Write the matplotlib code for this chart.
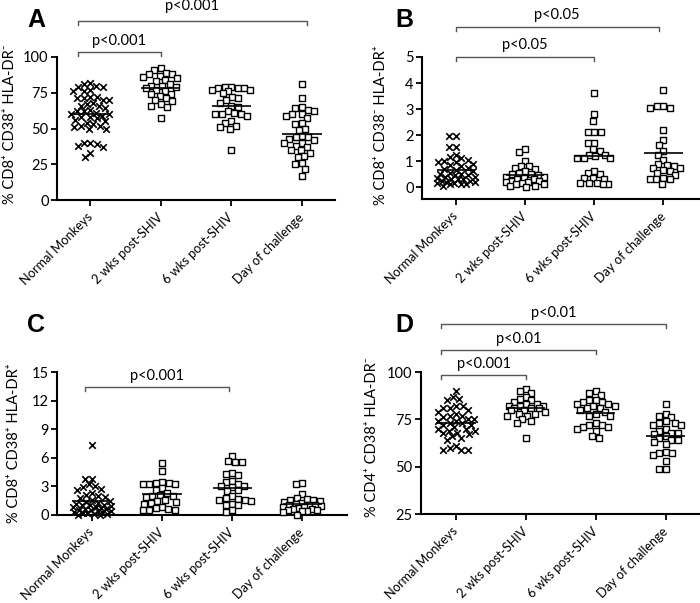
import numpy as np
import matplotlib
matplotlib.use("Agg")
import matplotlib.pyplot as plt
from matplotlib import font_manager

plt.rcParams['font.family'] = ['Lato', 'DejaVu Sans']

# narrow font for rotated category labels if present
try:
    font_manager.findfont(font_manager.FontProperties(family="Liberation Sans Narrow"),
                          fallback_to_default=False)
    XT_FAMILY, XT_SIZE = ["Liberation Sans Narrow", "Lato"], 10
except Exception:
    XT_FAMILY, XT_SIZE = ["Lato", "DejaVu Sans"], 9.2

# ---------------- data ----------------
categories = ["Normal Monkeys", "2 wks post-SHIV", "6 wks post-SHIV", "Day of challenge"]

a_normal = [82, 81, 80, 79, 79, 77, 76, 76, 72, 72, 71, 71, 70, 70, 68, 67, 66, 66, 64, 63,
            62, 62, 61, 60, 60, 59, 58, 58, 57, 56, 55, 54, 53, 52, 52, 51, 50, 50, 40, 40,
            39, 38, 37, 33, 30]
a_2wk = [92, 91, 89, 88, 88, 87, 86, 85, 84, 83, 81, 80, 80, 79, 78, 77, 76, 74, 74, 73,
         71, 70, 69, 67, 66, 65, 57]
a_6wk = [79, 79, 78, 78, 78, 77, 77, 76, 75, 72, 71, 70, 68, 66, 65, 62, 61, 60, 60, 60,
         59, 55, 54, 52, 51, 50, 35]
a_day = [81, 71, 65, 64, 63, 62, 60, 60, 59, 57, 54, 53, 50, 49, 45, 44, 44, 43, 42, 40,
         40, 38, 37, 35, 35, 33, 31, 30, 26, 25, 22, 17]

b_normal = [1.97, 1.95, 1.55, 1.55, 1.25, 1.15, 1.1, 1.05, 1.0, 0.95, 0.95, 0.9, 0.85, 0.8,
            0.75, 0.7, 0.65, 0.6, 0.55, 0.5, 0.5, 0.45, 0.45, 0.4, 0.4, 0.35, 0.3, 0.3, 0.3,
            0.25, 0.25, 0.2, 0.2, 0.15, 0.15, 0.1, 0.1, 0.1, 0.05]
b_2wk = [1.45, 1.35, 1.0, 0.8, 0.8, 0.75, 0.7, 0.6, 0.55, 0.5, 0.5, 0.45, 0.4, 0.4, 0.35,
         0.3, 0.3, 0.25, 0.25, 0.2, 0.2, 0.15, 0.1, 0.1, 0.05, 0.05, 0.0]
b_6wk = [3.6, 2.8, 2.55, 2.1, 2.1, 2.1, 1.7, 1.7, 1.45, 1.4, 1.25, 1.25, 1.2, 1.1, 1.1, 1.1,
         0.6, 0.55, 0.5, 0.35, 0.35, 0.3, 0.15, 0.15, 0.15, 0.1, 0.1]
b_day = [3.75, 3.1, 3.05, 3.05, 3.1, 2.2, 1.8, 1.6, 1.4, 1.25, 1.05, 0.9, 0.85, 0.8, 0.75,
         0.75, 0.65, 0.6, 0.55, 0.45, 0.35, 0.3, 0.3, 0.3, 0.1]

c_normal = [7.3, 3.8, 3.8, 3.2, 3.0, 2.9, 2.7, 2.6, 2.3, 2.1, 2.0, 1.9, 1.8, 1.6, 1.5, 1.4,
            1.3, 1.2, 1.1, 1.0, 1.0, 0.9, 0.8, 0.8, 0.7, 0.6, 0.6, 0.5, 0.5, 0.4, 0.4, 0.3,
            0.3, 0.2, 0.2, 0.1, 0.1, 0.0, 0.0]
c_2wk = [5.5, 4.6, 3.5, 3.4, 3.4, 3.3, 3.3, 3.2, 2.8, 2.6, 2.3, 2.1, 2.0, 2.0, 1.9, 1.6,
         1.5, 1.4, 1.3, 1.2, 0.8, 0.7, 0.6, 0.5, 0.5, 0.5]
c_6wk = [6.2, 5.7, 5.6, 5.6, 4.4, 4.3, 4.2, 3.6, 3.5, 3.3, 3.0, 3.0, 2.9, 2.6, 2.5, 2.0,
         1.8, 1.7, 1.6, 1.6, 1.5, 1.2, 1.1, 1.0, 0.5, 0.3]
c_day = [3.4, 3.3, 2.2, 1.8, 1.7, 1.6, 1.6, 1.5, 1.4, 1.3, 1.2, 1.1, 1.0, 1.0, 0.9, 0.8,
         0.8, 0.7, 0.6, 0.6, 0.5, 0.5, 0.4, 0.4, 0.3, 0.0]

d_normal = [90, 87, 86, 85, 82, 82, 81, 81, 80, 79, 78, 77, 77, 76, 75, 75, 74, 74, 73, 73,
            72, 72, 71, 70, 70, 69, 69, 68, 68, 67, 66, 65, 64, 61, 60, 59, 59, 59]
d_2wk = [91, 90, 89, 87, 86, 85, 84, 83, 83, 82, 82, 82, 81, 81, 81, 80, 80, 79, 78, 78,
         77, 77, 75, 74, 73, 65]
d_6wk = [90, 89, 88, 85, 85, 84, 84, 83, 83, 82, 82, 81, 81, 80, 79, 78, 77, 77, 73, 72,
         72, 71, 71, 70, 69, 66, 65]
d_day = [83, 78, 77, 76, 74, 73, 73, 72, 72, 70, 69, 68, 68, 67, 66, 65, 64, 64, 63, 62,
         58, 57, 57, 56, 53, 49, 49]

ylabels = ["% CD8\u207a CD38\u207a HLA-DR\u207b",
           "% CD8\u207a CD38\u207b HLA-DR\u207a",
           "% CD8\u207a CD38\u207a HLA-DR\u207a",
           "% CD4\u207a CD38\u207a HLA-DR\u207b"]
panel_letters = ["A", "B", "C", "D"]
yticks = [[0, 25, 50, 75, 100], [0, 1, 2, 3, 4, 5], [0, 3, 6, 9, 12, 15], [25, 50, 75, 100]]
bracket_labels = [["p<0.001", "p<0.001"], ["p<0.05", "p<0.05"], ["p<0.001"],
                  ["p<0.01", "p<0.01", "p<0.001"]]
panels = [
    [a_normal, a_2wk, a_6wk, a_day],
    [b_normal, b_2wk, b_6wk, b_day],
    [c_normal, c_2wk, c_6wk, c_day],
    [d_normal, d_2wk, d_6wk, d_day],
]

# ---------------- layout ----------------
W, H = 700, 603
fig = plt.figure(figsize=(W / 100, H / 100), dpi=100)

boxes = [(57, 335, 57, 200), (422, 700, 57, 199), (57, 347, 372, 515), (421, 700, 372, 514)]
xlims = [(-0.47, 3.47), (-0.49, 3.53), (-0.5, 3.64), (-0.5, 3.49)]
ylims = [(0, 100), (-0.46, 5), (0, 15), (25, 100)]
letter_pos = [(27, 27), (395, 27), (27, 332), (395, 332)]
ylabel_pos = [(10, 124), (381, 125), (14, 443), (372, 437)]
bracket_px = [[(21, 6), (52, 41)], [(27, 15), (57, 45)], [(387, 376)], [(324, 313), (350, 339), (375, 364)]]
bracket_x = [[(-0.17, 3.07), (-0.17, 1.0)], [(0.0, 2.93), (0.0, 2.0)], [(-0.1, 1.96)],
             [(-0.21, 3.0), (-0.21, 2.0), (-0.21, 1.0)]]


def swarm(vals, ppx_y, d_px, max_px):
    ys = np.asarray(vals, float) * ppx_y
    order = np.argsort(-ys, kind="stable")
    px_l, py_l = [], []
    offs = np.zeros(len(ys))
    for i in order:
        y = ys[i]
        cands = [0.0]
        for px, py in zip(px_l, py_l):
            dy = abs(py - y)
            if dy < d_px:
                dx = np.sqrt(d_px ** 2 - dy ** 2)
                cands += [px + dx, px - dx]
        cands = sorted(cands, key=lambda c: (abs(c), c))
        chosen = None
        for c in cands:
            if abs(c) > max_px:
                continue
            if all((c - px) ** 2 + (y - py) ** 2 >= d_px ** 2 - 1e-6 for px, py in zip(px_l, py_l)):
                chosen = c
                break
        if chosen is None:
            grid = np.linspace(-max_px, max_px, 41)
            best, bestd = 0.0, -1
            for g in grid:
                md = min([np.hypot(g - px, y - py) for px, py in zip(px_l, py_l)] + [1e9])
                if md > bestd + 1e-9:
                    best, bestd = g, md
            chosen = best
        offs[i] = chosen
        px_l.append(chosen)
        py_l.append(y)
    return offs


for k in range(4):
    l, r, t, b = boxes[k]
    ax = fig.add_axes([l / W, (H - b) / H, (r - l) / W, (b - t) / H])
    ax.set_xlim(*xlims[k])
    ax.set_ylim(*ylims[k])
    ppx_x = (r - l) / (xlims[k][1] - xlims[k][0])
    ppx_y = (b - t) / (ylims[k][1] - ylims[k][0])
    for j, vals in enumerate(panels[k]):
        offs_px = swarm(vals, ppx_y, 6.6, 19)
        xs = j + offs_px / ppx_x
        if j == 0:
            ax.scatter(xs, vals, marker="x", s=22, c="black", linewidths=1.2, zorder=3, clip_on=False)
        else:
            ax.scatter(xs, vals, marker="s", s=20, facecolors="white", edgecolors="black",
                       linewidths=1.0, zorder=3, clip_on=False)
        m = np.mean(vals)
        ax.plot([j - 0.28, j + 0.28], [m, m], color="black", lw=1.2, zorder=4, solid_capstyle="butt")
    for s in ["top", "right"]:
        ax.spines[s].set_visible(False)
    for s in ["left", "bottom"]:
        ax.spines[s].set_linewidth(1.5)
    ax.set_yticks(yticks[k])
    ax.set_xticks(range(4))
    ax.set_xticklabels(categories, rotation=45, ha="right", va="center", rotation_mode="anchor",
                       family=XT_FAMILY, fontsize=XT_SIZE)
    ax.tick_params(axis="both", direction="out", length=4, width=1.3, pad=2)
    ax.tick_params(axis="y", labelsize=10.5)
    ax.tick_params(axis="x", pad=7)
    trans = ax.get_xaxis_transform()
    for (x0, x1), (by, ty), lab in zip(bracket_x[k], bracket_px[k], bracket_labels[k]):
        yb = (b - by) / (b - t)
        ytick = 4 / (b - t)
        ax.plot([x0, x0, x1, x1], [yb - ytick, yb, yb, yb - ytick], color="#555555", lw=1.0,
                transform=trans, clip_on=False)
        yt = (b - ty) / (b - t)
        ax.text((x0 + x1) / 2, yt, lab, transform=trans, ha="center", va="center", fontsize=10.5)
    fig.text(letter_pos[k][0] / W, (H - letter_pos[k][1]) / H, panel_letters[k],
             fontsize=18, fontweight="bold", family="Liberation Sans", ha="left", va="baseline")
    fig.text(ylabel_pos[k][0] / W, (H - ylabel_pos[k][1]) / H, ylabels[k], rotation=90,
             ha="center", va="center", fontsize=10.5)

fig.savefig("out.png", dpi=100)
